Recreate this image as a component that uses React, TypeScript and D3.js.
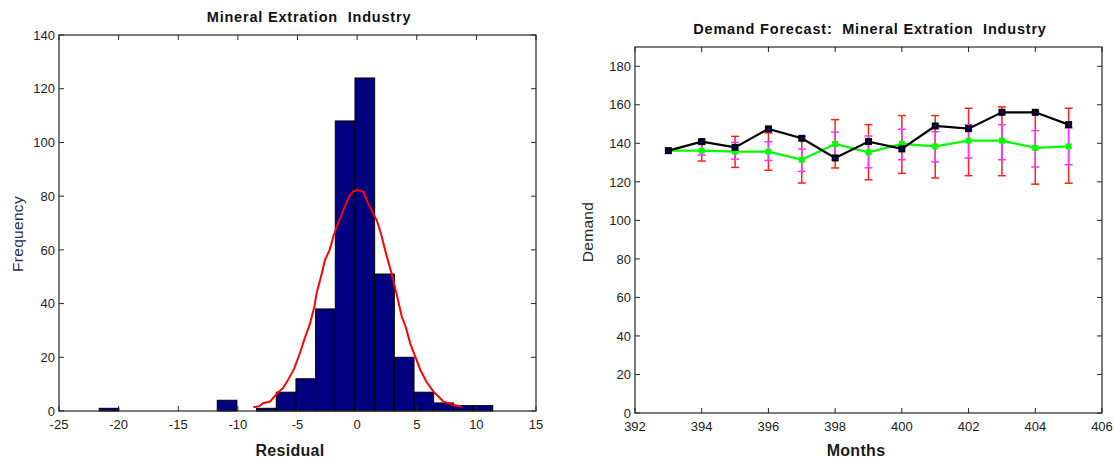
import React from 'react';
import * as d3 from 'd3';

// histogram of residuals (20 bins)
const binEdges = [-21.63, -19.98, -18.33, -16.68, -15.03, -13.38, -11.73, -10.08, -8.43, -6.78, -5.13,
    -3.48, -1.83, -0.18, 1.47, 3.12, 4.77, 6.42, 8.07, 9.72, 11.37];
const binCounts = [1, 0, 0, 0, 0, 0, 4, 0, 1, 7, 12, 38, 108, 124, 51, 20, 7, 3, 2, 2];

// fitted normal curve
const fitX = [-8.7, -8.2, -7.9, -7.3, -6.7, -6.2, -5.8, -5.3, -4.8, -4.4, -3.95, -3.6, -3.4, -3.0, -2.7, -2.3,
    -2.0, -1.6, -1.15, -0.8, -0.6, -0.3, 0.0, 0.3, 0.55, 0.9, 1.35, 1.65, 2.0, 2.5, 2.9, 3.3, 3.75, 4.1, 4.45, 4.9,
    5.3, 5.8, 6.4, 6.9, 7.25, 7.7, 8.1, 8.8];
const fitY = [1.4, 1.8, 2.9, 3.5, 6.6, 8.6, 11.5, 15.6, 21.5, 27.0, 32.6, 38.5, 43.8, 50.5, 56.2, 60.0,
    64.9, 70.0, 74.8, 78.5, 80.4, 81.8, 82.3, 82.0, 81.5, 77.5, 73.6, 71.0, 66.0, 57.4, 51.0, 43.8, 35.1, 31.0, 25.2, 20.0,
    15.3, 11.0, 7.2, 5.0, 3.5, 2.8, 2.2, 1.6];

const histXTicks = [-25, -20, -15, -10, -5, 0, 5, 10, 15];
const histYTicks = [0, 20, 40, 60, 80, 100, 120, 140];

// demand forecast
const months = [393, 394, 395, 396, 397, 398, 399, 400, 401, 402, 403, 404, 405];
const actual = [136.2, 140.9, 137.9, 147.5, 142.6, 132.4, 140.9, 137.1, 149.0, 147.6, 156.1, 156.1, 149.7];
const forecast = [136.2, 136.2, 135.7, 135.7, 131.5, 139.7, 135.3, 139.7, 138.4, 141.4, 141.4, 137.6, 138.4];
const outerLo = [136.2, 130.8, 127.5, 126.0, 119.4, 127.2, 121.1, 124.4, 122.0, 123.2, 123.2, 118.8, 119.3];
const outerHi = [136.2, 141.9, 143.6, 145.4, 143.6, 152.3, 149.7, 154.4, 154.4, 158.2, 158.9, 156.4, 158.2];
const innerLo = [136.2, 133.9, 131.8, 131.1, 125.4, 133.6, 127.3, 131.5, 130.4, 132.4, 131.5, 127.7, 128.9];
const innerHi = [136.2, 139.4, 140.5, 140.8, 137.0, 145.8, 143.8, 147.3, 146.0, 149.7, 149.7, 146.6, 148.0];

const fcXTicks = [392, 394, 396, 398, 400, 402, 404, 406];
const fcYTicks = [0, 20, 40, 60, 80, 100, 120, 140, 160, 180];

const FONT = 'Arial, "Liberation Sans", Helvetica, sans-serif';
const AX = '#262626';
const pre = {whiteSpace: 'pre'};

function Frame({x, y, xTicks, yTicks}) {
    const [x0, x1] = x.range();
    const [y0, y1] = y.range();
    const tl = 5;
    return (
        <g fontFamily={FONT} fontSize={13} fill="#222">
            {xTicks.map(t => (
                <g key={'x' + t}>
                    <line x1={x(t)} x2={x(t)} y1={y0} y2={y0 - tl} stroke={AX}/>
                    <line x1={x(t)} x2={x(t)} y1={y1} y2={y1 + tl} stroke={AX}/>
                    <text x={x(t)} y={y0 + 18} textAnchor="middle">{t}</text>
                </g>
            ))}
            {yTicks.map(t => (
                <g key={'y' + t}>
                    <line x1={x0} x2={x0 + tl} y1={y(t)} y2={y(t)} stroke={AX}/>
                    <line x1={x1} x2={x1 - tl} y1={y(t)} y2={y(t)} stroke={AX}/>
                    <text x={x0 - 4} y={y(t)} dy="0.36em" textAnchor="end">{t}</text>
                </g>
            ))}
            <rect x={x0} y={y1} width={x1 - x0} height={y0 - y1} fill="none" stroke={AX} strokeWidth={1.2}/>
        </g>
    );
}

function Histogram() {
    const x = d3.scaleLinear().domain([-25, 15]).range([59, 536]);
    const y = d3.scaleLinear().domain([0, 140]).range([411, 35]);
    const curve = d3.line().x(d => x(d[0])).y(d => y(d[1]));
    const pts = fitX.map((v, i) => [v, fitY[i]]);
    return (
        <g>
            {binCounts.map((c, i) => c > 0 && (
                <rect key={i} x={x(binEdges[i])} y={y(c)} width={x(binEdges[i + 1]) - x(binEdges[i])}
                      height={y(0) - y(c)} fill="#000080" stroke="#000" strokeWidth={1}/>
            ))}
            <path d={curve(pts)} fill="none" stroke="#ff0000" strokeWidth={2}/>
            <Frame x={x} y={y} xTicks={histXTicks} yTicks={histYTicks}/>
            <text x={309} y={22} textAnchor="middle" fontFamily={FONT} fontWeight="bold" fontSize={14.5}
                  letterSpacing={0.8} fill="#111" style={pre}>
                {'Mineral Extration  Industry'}
            </text>
            <text x={290} y={456} textAnchor="middle" fontFamily={FONT} fontWeight="bold" fontSize={16}
                  letterSpacing={0.3} fill="#1a1a1a">
                Residual
            </text>
            <text transform="translate(23,234) rotate(-90)" textAnchor="middle" fontFamily={FONT} fontSize={15.5}
                  letterSpacing={0.3} fill="#2a3050">Frequency</text>
        </g>
    );
}

function Forecast() {
    const x = d3.scaleLinear().domain([392, 406]).range([635, 1102]);
    const y = d3.scaleLinear().domain([0, 190]).range([413, 47]);
    const line = d3.line().x(d => x(d[0])).y(d => y(d[1]));
    const act = months.map((m, i) => [m, actual[i]]);
    const fc = months.map((m, i) => [m, forecast[i]]);
    const cap = 4;
    const bar = (lo, hi, color) => months.map((m, i) => {
        if (i === 0) return null;
        const cx = x(m);
        return (
            <g key={color + m} stroke={color} strokeWidth={1.5}>
                <line x1={cx} x2={cx} y1={y(lo[i])} y2={y(hi[i])}/>
                <line x1={cx - cap} x2={cx + cap} y1={y(lo[i])} y2={y(lo[i])}/>
                <line x1={cx - cap} x2={cx + cap} y1={y(hi[i])} y2={y(hi[i])}/>
            </g>
        );
    });
    return (
        <g>
            {bar(outerLo, outerHi, '#ff2020')}
            {bar(innerLo, innerHi, '#ff33ff')}
            <path d={line(fc)} fill="none" stroke="#00ff00" strokeWidth={2.2}/>
            {fc.map(d => (
                <rect key={'g' + d[0]} x={x(d[0]) - 3} y={y(d[1]) - 3} width={6} height={6} fill="#00ff00"/>
            ))}
            <path d={line(act)} fill="none" stroke="#000" strokeWidth={2.2}/>
            {act.map(d => (
                <g key={'a' + d[0]}>
                    <rect x={x(d[0]) - 3.5} y={y(d[1]) - 3.5} width={7} height={7} fill="#000"/>
                    <rect x={x(d[0]) - 1} y={y(d[1]) - 1} width={2} height={2} fill="#0000ff"/>
                </g>
            ))}
            <Frame x={x} y={y} xTicks={fcXTicks} yTicks={fcYTicks}/>
            <text x={870} y={34} textAnchor="middle" fontFamily={FONT} fontWeight="bold" fontSize={14.5}
                  letterSpacing={0.8} fill="#111" style={pre}>
                {'Demand Forecast:  Mineral Extration  Industry'}
            </text>
            <text x={856} y={456} textAnchor="middle" fontFamily={FONT} fontWeight="bold" fontSize={16}
                  letterSpacing={0.3} fill="#1a1a1a">
                Months
            </text>
            <text transform="translate(593,232) rotate(-90)" textAnchor="middle" fontFamily={FONT} fontSize={15.5}
                  letterSpacing={0.3} fill="#2a2a2a">Demand</text>
        </g>
    );
}

export default function App() {
    return (
        <svg width={1114} height={461} style={{position: 'absolute', left: 0, top: 0, background: '#fff'}}>
            <rect width={1114} height={461} fill="#fff"/>
            <Histogram/>
            <Forecast/>
        </svg>
    );
}
